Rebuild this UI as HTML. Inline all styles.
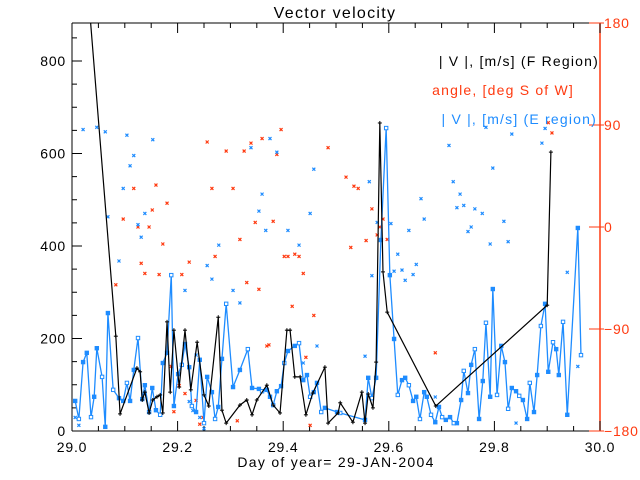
<!DOCTYPE html>
<html><head><meta charset="utf-8"><style>
body{margin:0;background:#fff}
svg{display:block;font-family:"Liberation Sans",sans-serif}
</style></head><body>
<svg id="c" width="640" height="480" viewBox="0 0 640 480">
<defs><clipPath id="pc"><rect x="72" y="23" width="528" height="408"/></clipPath></defs>
<text x="335" y="18" text-anchor="middle" font-size="16" letter-spacing="1.3" fill="#000">Vector velocity</text>
<g id="axes"></g>
<g id="series" clip-path="url(#pc)"></g>
<text x="599" y="66" text-anchor="end" font-size="14" letter-spacing="1.2" fill="#000">| V |, [m/s] (F Region)</text>
<text x="574" y="95" text-anchor="end" font-size="14" letter-spacing="1.2" fill="#ff3a10">angle, [deg S of W]</text>
<text x="597" y="124" text-anchor="end" font-size="14" letter-spacing="1.2" fill="#1e8cff">| V |, [m/s] (E region)</text>
<text x="336" y="467" text-anchor="middle" font-size="14" letter-spacing="1.3" fill="#000">Day of year= 29-JAN-2004</text>
</svg>
<script>
const baseDay = 29;
const fDays = [0.027,0.083,0.091,0.123,0.129,0.133,0.138,0.146,0.153,0.161,0.167,0.172,0.180,0.186,0.193,0.203,0.214,0.225,0.237,0.250,0.259,0.277,0.284,0.292,0.318,0.331,0.341,0.350,0.369,0.381,0.394,0.407,0.413,0.422,0.432,0.443,0.456,0.479,0.485,0.504,0.508,0.532,0.549,0.555,0.561,0.570,0.576,0.583,0.589,0.597,0.689,0.900,0.907];
const fVals = [1000,205,37,136,128,67,84,39,67,74,78,39,236,84,218,95,218,89,192,78,54,246,45,17,56,67,35,67,99,56,39,218,218,117,117,35,82,138,17,39,61,19,84,17,80,50,149,666,344,257,54,272,603];
const eDays = [0.006,0.013,0.021,0.028,0.036,0.042,0.047,0.057,0.063,0.068,0.078,0.089,0.097,0.104,0.110,0.117,0.125,0.133,0.138,0.146,0.152,0.159,0.167,0.172,0.180,0.188,0.193,0.201,0.208,0.214,0.222,0.227,0.235,0.242,0.250,0.256,0.265,0.271,0.277,0.284,0.292,0.305,0.318,0.333,0.341,0.354,0.360,0.369,0.375,0.381,0.388,0.396,0.402,0.409,0.422,0.430,0.438,0.445,0.451,0.458,0.464,0.472,0.479,0.502,0.508,0.555,0.561,0.568,0.576,0.585,0.595,0.602,0.610,0.617,0.625,0.631,0.638,0.646,0.652,0.659,0.667,0.672,0.680,0.688,0.695,0.701,0.708,0.716,0.723,0.729,0.737,0.742,0.750,0.756,0.763,0.771,0.778,0.784,0.792,0.797,0.805,0.813,0.820,0.826,0.833,0.841,0.847,0.854,0.862,0.867,0.875,0.881,0.888,0.896,0.902,0.911,0.917,0.922,0.930,0.938,0.958,0.964];
const eVals = [65,26,149,169,30,74,179,117,9,255,89,71,65,104,65,132,201,69,99,41,93,45,35,147,169,337,54,123,143,188,138,54,41,154,17,117,84,26,52,156,275,95,132,177,93,91,86,89,74,56,86,97,147,173,184,190,110,121,74,84,104,41,50,41,39,24,115,71,115,413,655,337,199,78,110,115,99,65,74,26,84,74,35,19,52,30,24,30,17,17,67,130,82,143,177,26,108,234,74,307,78,184,149,48,93,86,76,67,26,104,41,121,227,275,128,192,177,121,236,35,439,164];
const angDays = [0.256,0.292,0.326,0.339,0.360,0.396,0.485,0.388,0.117,0.159,0.265,0.305,0.180,0.152,0.097,0.125,0.146,0.347,0.381,0.318,0.172,0.131,0.138,0.165,0.208,0.222,0.271,0.083,0.331,0.354,0.402,0.409,0.422,0.430,0.438,0.417,0.458,0.369,0.373,0.443,0.188,0.203,0.214,0.235,0.193,0.242,0.248,0.313,0.451,0.519,0.534,0.542,0.568,0.589,0.583,0.578,0.557,0.597,0.528,0.902,0.909,0.688];
const angVals = [75,67,67,74,78,86,70,64,34,37,34,34,21,15,7,0,0,4,5,-11,-15,-32,-41,-42,-42,-31,-26,-51,-49,-55,-26,-26,-24,-26,-41,-70,-78,-105,-104,-115,-123,-140,-147,-153,-163,-174,-168,-171,-175,44,36,34,16,7,0,-7,-12,-11,-18,92,83,-111];
const eAngDays = [0.021,0.047,0.063,0.104,0.153,0.117,0.110,0.097,0.068,0.138,0.125,0.131,0.339,0.375,0.388,0.458,0.360,0.354,0.451,0.367,0.409,0.089,0.256,0.265,0.278,0.214,0.305,0.318,0.430,0.464,0.172,0.438,0.235,0.222,0.229,0.006,0.013,0.242,0.250,0.784,0.833,0.896,0.890,0.714,0.797,0.722,0.661,0.735,0.742,0.729,0.763,0.777,0.667,0.818,0.756,0.750,0.638,0.792,0.826,0.617,0.652,0.625,0.610,0.646,0.631,0.568,0.578,0.604,0.938,0.563,0.555,0.688,0.841,0.958];
const eAngVals = [86,88,84,81,77,63,54,34,9,12,2,-9,70,78,66,51,29,14,12,-3,-3,-30,-34,-46,-16,-56,-56,-67,-16,-105,-120,-120,-113,-154,-162,-168,-175,-168,-178,88,82,87,74,72,52,40,25,29,19,17,16,12,7,5,0,-4,-3,-15,-13,-24,-33,-38,-39,-42,-47,-43,4,3,-40,40,-114,-150,-173,-123];
const xTicks = ["29.0","29.2","29.4","29.6","29.8","30.0"];
const yTicks = ["0","200","400","600","800"];
const rTicks = ["-180","-90","0","90","180"];

const X0=72,X1=600,Y0=23,Y1=431;
const xs = d => X0 + (d-baseDay)*(X1-X0);
const yL = v => Y1 - v*0.4625;
const yR = a => Y1 - (a+180)*(Y1-Y0)/360;
const NS="http://www.w3.org/2000/svg";
function mk(tag, attrs, parent){const e=document.createElementNS(NS,tag);for(const k in attrs)e.setAttribute(k,attrs[k]);parent.appendChild(e);return e;}
const ax=document.getElementById('axes'), sr=document.getElementById('series');

let l;
l=mk('line',{x1:X0,y1:Y0,x2:X0,y2:Y1,stroke:'#000'},ax);
 
l=mk('line',{x1:X0,y1:Y1,x2:X1,y2:Y1,stroke:'#000'},ax);
 
l=mk('line',{x1:X0,y1:Y0,x2:X1,y2:Y0,stroke:'#000'},ax);
 
l=mk('line',{x1:X1,y1:Y0,x2:X1,y2:Y1,stroke:'#ff3a10','stroke-width':1.5},ax);
 

for(let i=0;i<=20;i++){
  const x=X0+i*(X1-X0)/20, len=(i%4===0)?10:5;
  mk('line',{x1:x,y1:Y1,x2:x,y2:Y1-len,stroke:'#000'},ax);
  mk('line',{x1:x,y1:Y0,x2:x,y2:Y0+len,stroke:'#000'},ax);
}
xTicks.forEach(t=>{
  const e=mk('text',{x:xs(parseFloat(t)),y:452,'text-anchor':'middle','font-size':14,'letter-spacing':0.8,fill:'#000'},ax);
  e.textContent=t;
  
  
});
for(let v=0;v<=850;v+=50){
  const y=yL(v), len=(v%200===0)?10:5;
  mk('line',{x1:X0,y1:y,x2:X0+len,y2:y,stroke:'#000'},ax);
}
yTicks.forEach(t=>{
  const e=mk('text',{x:66,y:yL(parseFloat(t))+5,'text-anchor':'end','font-size':14,'letter-spacing':0.8,fill:'#000'},ax);
  e.textContent=t;
  
  
});
rTicks.forEach(t=>{
  const y=yR(parseFloat(t));
  mk('line',{x1:X1-11,y1:y,x2:X1,y2:y,stroke:'#ff3a10'},ax);
  mk('line',{x1:X1,y1:y,x2:X1+4,y2:y,stroke:'#ff3a10'},ax);
  const e=mk('text',{x:604,y:y+5,'font-size':14,'letter-spacing':0.8,fill:'#ff3a10'},ax);
  e.textContent=t.replace('-','\u2212');
  
  
});

function xmark(px,py,col,name){
  const g=mk('g',{stroke:col,'stroke-width':1.2},sr);
  mk('line',{x1:px-1.5,y1:py-1.5,x2:px+1.5,y2:py+1.5},g);
  mk('line',{x1:px-1.5,y1:py+1.5,x2:px+1.5,y2:py-1.5},g);
  
  
}
angDays.forEach((d,i)=>xmark(xs(baseDay+d),yR(angVals[i]),'#ff3a10','angle-point'));
eAngDays.forEach((d,i)=>xmark(xs(baseDay+d),yR(eAngVals[i]),'#1e8cff','e-angle-point'));

let pts=eDays.map((d,i)=>xs(baseDay+d)+','+yL(eVals[i])).join(' ');
l=mk('polyline',{points:pts,fill:'none',stroke:'#1e8cff','stroke-width':1.3},sr);
 
eDays.forEach((d,i)=>{
  const px=xs(baseDay+d), py=yL(eVals[i]), hollow=(i%3===1);
  const r=mk('rect',{x:px-1.7,y:py-1.7,width:3.4,height:3.4,fill:hollow?'#fff':'#1e8cff',stroke:'#1e8cff','stroke-width':1},sr);
  
  
});
pts=fDays.map((d,i)=>xs(baseDay+d)+','+yL(fVals[i])).join(' ');
l=mk('polyline',{points:pts,fill:'none',stroke:'#000','stroke-width':1.2},sr);
 
fDays.forEach((d,i)=>{
  const px=xs(baseDay+d), py=yL(fVals[i]);
  const g=mk('g',{stroke:'#000','stroke-width':1},sr);
  mk('line',{x1:px-2,y1:py,x2:px+2,y2:py},g);
  mk('line',{x1:px,y1:py-2,x2:px,y2:py+2},g);
  
  
});
</script>
</body></html>
